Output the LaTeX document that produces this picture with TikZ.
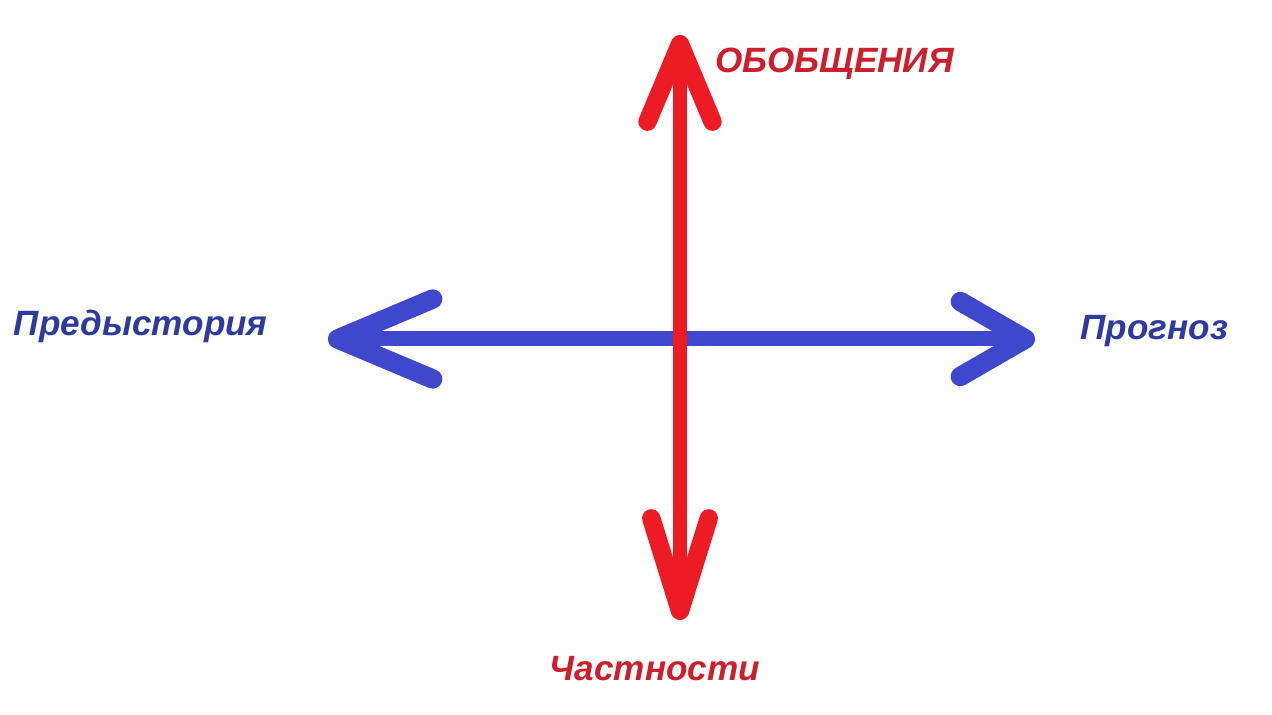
\documentclass[tikz,border=0pt]{standalone}
\usepackage{fontspec}
\setmainfont{Liberation Sans}
\usepackage{tikz}
\usetikzlibrary{arrows.meta,positioning}
\definecolor{paintred}{HTML}{ED1C24}
\definecolor{paintblue}{HTML}{3F48CC}
\definecolor{labelred}{HTML}{CC1E2B}
\definecolor{labelblue}{HTML}{2F3A9E}

\begin{document}
\begin{tikzpicture}[
    x=0.02cm, y=-0.02cm,
    node distance=1cm,
    label/.style={font=\fontsize{20}{24}\selectfont\bfseries\itshape, inner sep=0pt},
    redarrow/.style={line width=0.28cm, color=paintred},
    bluearrow/.style={line width=0.3cm, color=paintblue}
]
    \useasboundingbox (0,0) rectangle (1272,715);
    \coordinate (west) at (328,339);
    \coordinate (east) at (1035,339);
    \coordinate (north) at (680,35);
    \coordinate (south) at (680,620);

    \node[label, text=labelblue, left=1.2cm of west, yshift=0.26cm] (past) {Предыстория};
    \node[label, text=labelblue, right=0.9cm of east, yshift=0.16cm] (forecast) {Прогноз};
    \node[label, text=labelred, right=0.7cm of north, yshift=-0.58cm] (general) {ОБОБЩЕНИЯ};
    \node[label, text=labelred, below=0.72cm of south, xshift=-0.5cm] (details) {Частности};

    \draw[bluearrow, {Straight Barb[round, line width=2.5pt 1, length=1.9cm, width=1.6cm]}-{Straight Barb[round, line width=2.5pt 1, length=1.3cm, width=1.5cm]}] (west) -- (east);
    \draw[redarrow, {Straight Barb[round, line width=2.5pt 1, length=1.55cm, width=1.3cm]}-{Straight Barb[round, line width=2.5pt 1, length=1.85cm, width=1.15cm]}] (north) -- (south);
\end{tikzpicture}
\end{document}
